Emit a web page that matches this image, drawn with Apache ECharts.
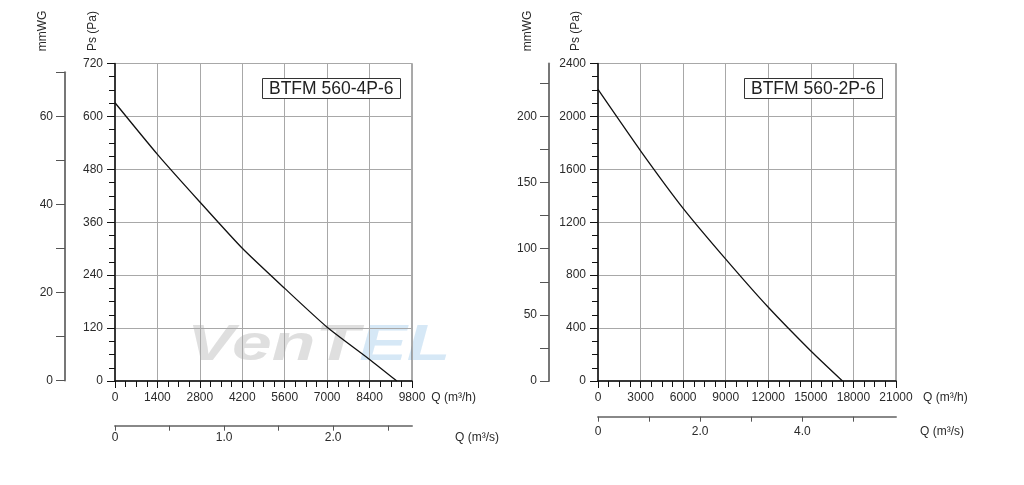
<!DOCTYPE html>
<html>
<head>
<meta charset="utf-8">
<script src="https://cdn.jsdelivr.net/npm/echarts@6/dist/echarts.min.js"></script>
<style>
html,body{margin:0;padding:0;background:#fff;}
#c{width:1024px;height:485px;}
</style>
</head>
<body>
<div id="c"></div>
<script>
// ---- data ----
const leftTitle = 'BTFM 560-4P-6';
const rightTitle = 'BTFM 560-2P-6';
const leftQ  = [0, 1400, 2800, 4200, 5600, 7000, 8400, 9300];
const leftPs = [631, 514, 406, 301, 210, 122, 49, 0];
const rightQ  = [0, 3000, 6000, 9000, 12000, 15000, 17230];
const rightPs = [2204, 1740, 1305, 921, 557, 227, 0];
const leftMmwgTicks  = [0, 10, 20, 30, 40, 50, 60, 70];
const leftMmwgLabels = [0, 20, 40, 60];
const rightMmwgTicks  = [0, 25, 50, 75, 100, 125, 150, 175, 200, 225];
const rightMmwgLabels = [0, 50, 100, 150, 200];
const leftM3sTicks  = [0, 0.5, 1, 1.5, 2, 2.5];
const leftM3sLabels = [0, 1, 2];
const rightM3sTicks  = [0, 1, 2, 3, 4, 5];
const rightM3sLabels = [0, 2, 4];

const FONT = 'Liberation Sans, Arial, sans-serif';
const TXT = '#2a2a2a';

function pairs(xs, ys){ return xs.map((x,i)=>[x, ys[i]]); }
function m3sFmt(v){ return v === 0 ? '0' : v.toFixed(1); }
function plain(v){ return String(v); }

const mainX = (grid, max, interval, nameGap) => ({
  type:'value', gridIndex:grid, min:0, max:max, interval:interval,
  name:'Q (m³/h)', nameLocation:'end', nameGap:nameGap,
  nameTextStyle:{color:TXT, fontSize:12, fontFamily:FONT, align:'left', verticalAlign:'top', padding:[11,0,0,0]},
  axisLine:{show:true, onZero:false, lineStyle:{color:'#111', width:1.5}},
  axisTick:{show:true, length:7, lineStyle:{color:'#111'}},
  minorTick:{show:true, splitNumber:4, length:6, lineStyle:{color:'#111'}},
  axisLabel:{color:TXT, fontSize:12, fontFamily:FONT, margin:11, formatter:plain, showMaxLabel:true, showMinLabel:true},
  splitLine:{show:true, lineStyle:{color:'#a8a8a8', width:1}},
  minorSplitLine:{show:false}
});
const m3sX = (grid, max, offset, ticks, labels, nameGap, margin) => ({
  type:'value', gridIndex:grid, position:'bottom', offset:offset, min:0, max:max,
  name:'Q (m³/s)', nameLocation:'end', nameGap:nameGap,
  nameTextStyle:{color:TXT, fontSize:12, fontFamily:FONT, align:'left', verticalAlign:'top', padding:[margin,0,0,0]},
  axisLine:{show:true, onZero:false, lineStyle:{color:'#888', width:2}},
  axisTick:{show:true, length:5, customValues:ticks, lineStyle:{color:'#555', width:1}},
  axisLabel:{color:TXT, fontSize:12, fontFamily:FONT, margin:margin, customValues:labels, formatter:m3sFmt},
  splitLine:{show:false}
});
const psY = (grid, max, interval) => ({
  type:'value', gridIndex:grid, min:0, max:max, interval:interval,
  axisLine:{show:true, onZero:false, lineStyle:{color:'#111', width:1.5}},
  axisTick:{show:true, length:8, lineStyle:{color:'#111'}},
  minorTick:{show:true, splitNumber:4, length:6, lineStyle:{color:'#111'}},
  axisLabel:{color:TXT, fontSize:12, fontFamily:FONT, margin:12, formatter:plain},
  splitLine:{show:true, lineStyle:{color:'#a8a8a8', width:1}}
});
const mmY = (grid, max, ticks, labels) => ({
  type:'value', gridIndex:grid, min:0, max:max,
  axisLine:{show:true, onZero:false, lineStyle:{color:'#777', width:2}},
  axisTick:{show:true, length:9, customValues:ticks, lineStyle:{color:'#555', width:1}},
  axisLabel:{color:TXT, fontSize:12, fontFamily:FONT, margin:12, customValues:labels, formatter:plain},
  splitLine:{show:false}
});
const hiddenX = (grid) => ({type:'value', gridIndex:grid, show:false, min:0, max:1});

const rotText = (x, y, t) => ({
  type:'text', x:x, y:y, rotation:Math.PI/2,
  style:{text:t, fontSize:12, fontFamily:FONT, fill:TXT, align:'center', verticalAlign:'middle'}
});
const titleBox = (left, text) => ({
  text:text, left:left, top:78, padding:[1,7,0,7],
  borderWidth:1, borderColor:'#333', backgroundColor:'#fff',
  textStyle:{fontSize:17.5, lineHeight:20, fontWeight:'normal', color:'#222', fontFamily:FONT}
});

const chart = echarts.init(document.getElementById('c'), null, {renderer:'canvas'});
chart.setOption({
  animation:false,
  backgroundColor:'#fff',
  title:[ titleBox(262, leftTitle), titleBox(744, rightTitle) ],
  grid:[
    {left:115, top:63.5, width:297, height:317.5, show:true, borderColor:'#555', borderWidth:1, outerBoundsMode:'none'},
    {left:65,  top:72.3, width:40, height:308.2, show:false, outerBoundsMode:'none'},
    {left:598, top:63.5, width:298, height:317.5, show:true, borderColor:'#555', borderWidth:1, outerBoundsMode:'none'},
    {left:549, top:63.5, width:40, height:317.5, show:false, outerBoundsMode:'none'}
  ],
  xAxis:[
    mainX(0, 9800, 1400, 16),
    m3sX(0, 9800/3600, 44.7, leftM3sTicks, leftM3sLabels, 43, 6),
    hiddenX(1),
    mainX(2, 21000, 3000, 27),
    m3sX(2, 21000/3600, 35.7, rightM3sTicks, rightM3sLabels, 24, 9),
    hiddenX(3)
  ],
  yAxis:[
    psY(0, 720, 120),
    mmY(1, 70, leftMmwgTicks, leftMmwgLabels),
    psY(2, 2400, 400),
    mmY(3, 240, rightMmwgTicks, rightMmwgLabels)
  ],
  graphic:[
    rotText(43, 31, 'mmWG'),
    rotText(93, 31, 'Ps (Pa)'),
    rotText(528, 31, 'mmWG'),
    rotText(576, 31, 'Ps (Pa)'),
    {
      type:'text', x:187, y:346, scaleX:1.43, z:-10, silent:true,
      style:{
        text:'{a|VenT}{b|EL}', verticalAlign:'middle', opacity:0.9,
        rich:{
          a:{fontSize:50, fontWeight:'bold', fontStyle:'italic', fontFamily:FONT, fill:'#dcdcdc', color:'#dcdcdc'},
          b:{fontSize:50, fontWeight:'bold', fontStyle:'italic', fontFamily:FONT, fill:'#d2e5f5', color:'#d2e5f5'}
        }
      }
    }
  ],
  series:[
    {type:'line', xAxisIndex:0, yAxisIndex:0, data:pairs(leftQ, leftPs), smooth:0.2, showSymbol:false,
     lineStyle:{color:'#111', width:1.3}, z:5},
    {type:'line', xAxisIndex:3, yAxisIndex:2, data:pairs(rightQ, rightPs), smooth:0.2, showSymbol:false,
     lineStyle:{color:'#111', width:1.3}, z:5}
  ]
});
</script>
</body>
</html>
